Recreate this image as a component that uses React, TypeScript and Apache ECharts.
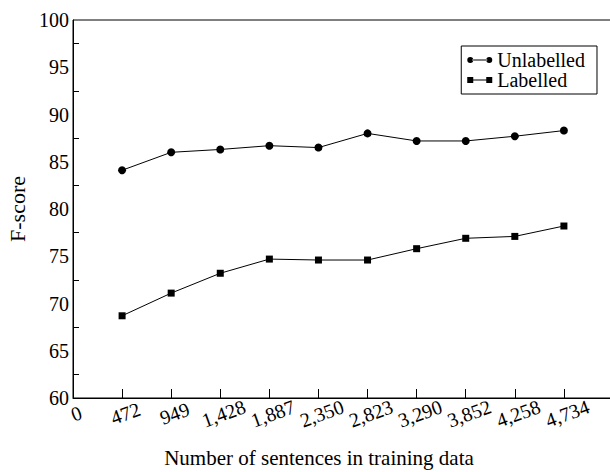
import React, { useEffect, useRef } from "react";
import * as echarts from "echarts";

const sentenceCounts = ["472", "949", "1,428", "1,887", "2,350", "2,823", "3,290", "3,852", "4,258", "4,734"];
const unlabelled = [84.1, 86.0, 86.3, 86.7, 86.5, 88.0, 87.2, 87.2, 87.7, 88.3];
const labelled = [68.7, 71.1, 73.2, 74.7, 74.6, 74.6, 75.8, 76.9, 77.1, 78.2];
const yTicks = { min: 60, max: 100, interval: 5 };

const FONT = "'Liberation Serif', 'Times New Roman', serif";

export default function App() {
  const ref = useRef<HTMLDivElement>(null);
  useEffect(() => {
    if (!ref.current) return;
    const chart = echarts.init(ref.current, undefined, { renderer: "svg" });
    const cats = ["0", ...sentenceCounts, ""];
    const circleIcon =
      "path://M0,3a3,3 0 1,0 6,0a3,3 0 1,0 -6,0zM5,2.5h15v1h-15zM19,3a3,3 0 1,0 6,0a3,3 0 1,0 -6,0z";
    const rectIcon = "path://M0,0h6v6h-6zM5,2.5h15v1h-15zM19,0h6v6h-6z";
    chart.setOption({
      animation: false,
      backgroundColor: "#fff",
      grid: {
        left: 73,
        top: 20,
        width: 540,
        height: 378,
        outerBoundsMode: "none",
        containLabel: false,
        show: true,
        borderColor: "#000",
        borderWidth: 1,
      },
      legend: {
        right: 13,
        top: 46,
        orient: "vertical",
        borderColor: "#000",
        borderWidth: 1,
        padding: [4, 12, 4, 6],
        itemGap: 0,
        itemWidth: 25,
        itemHeight: 7,
        textStyle: { fontFamily: FONT, fontSize: 20, lineHeight: 19, color: "#000", padding: [0, 0, 0, 0] },
        data: [
          { name: "Unlabelled", icon: circleIcon },
          { name: "Labelled", icon: rectIcon },
        ],
      },
      xAxis: {
        type: "category",
        boundaryGap: false,
        data: cats,
        axisLine: { lineStyle: { color: "#000", width: 1 } },
        axisTick: { inside: true, length: 9, lineStyle: { color: "#000" } },
        axisLabel: {
          interval: 0,
          rotate: 20,
          align: "center",
          verticalAlign: "top",
          margin: 6,
          fontFamily: FONT,
          fontSize: 20,
          color: "#000",
        },
        splitLine: { show: false },
      },
      yAxis: {
        type: "value",
        min: yTicks.min,
        max: yTicks.max,
        interval: yTicks.interval,
        name: "F-score",
        nameLocation: "middle",
        nameGap: 42,
        nameTextStyle: { fontFamily: FONT, fontSize: 22, color: "#000" },
        axisLine: { show: true, lineStyle: { color: "#000", width: 1 } },
        axisTick: { inside: true, length: 12, lineStyle: { color: "#000" } },
        minorTick: { show: true, splitNumber: 2, length: 6, lineStyle: { color: "#000" } },
        axisLabel: { margin: 4, fontFamily: FONT, fontSize: 20, color: "#000" },
        splitLine: { show: false },
      },
      graphic: [
        {
          type: "text",
          x: 319,
          y: 458,
          style: {
            text: "Number of sentences in training data",
            font: `21px ${FONT}`,
            fill: "#000",
            textAlign: "center",
            textVerticalAlign: "middle",
          },
        },
      ],
      series: [
        {
          name: "Unlabelled",
          type: "line",
          data: [null, ...unlabelled],
          symbol: "circle",
          symbolSize: 8,
          itemStyle: { color: "#000" },
          lineStyle: { color: "#000", width: 1 },
        },
        {
          name: "Labelled",
          type: "line",
          data: [null, ...labelled],
          symbol: "rect",
          symbolSize: 7,
          itemStyle: { color: "#000" },
          lineStyle: { color: "#000", width: 1 },
        },
      ],
    });
    return () => chart.dispose();
  }, []);
  return (
    <div
      ref={ref}
      style={{ position: "fixed", left: 0, top: 0, width: 610, height: 472, background: "#fff" }}
    />
  );
}
